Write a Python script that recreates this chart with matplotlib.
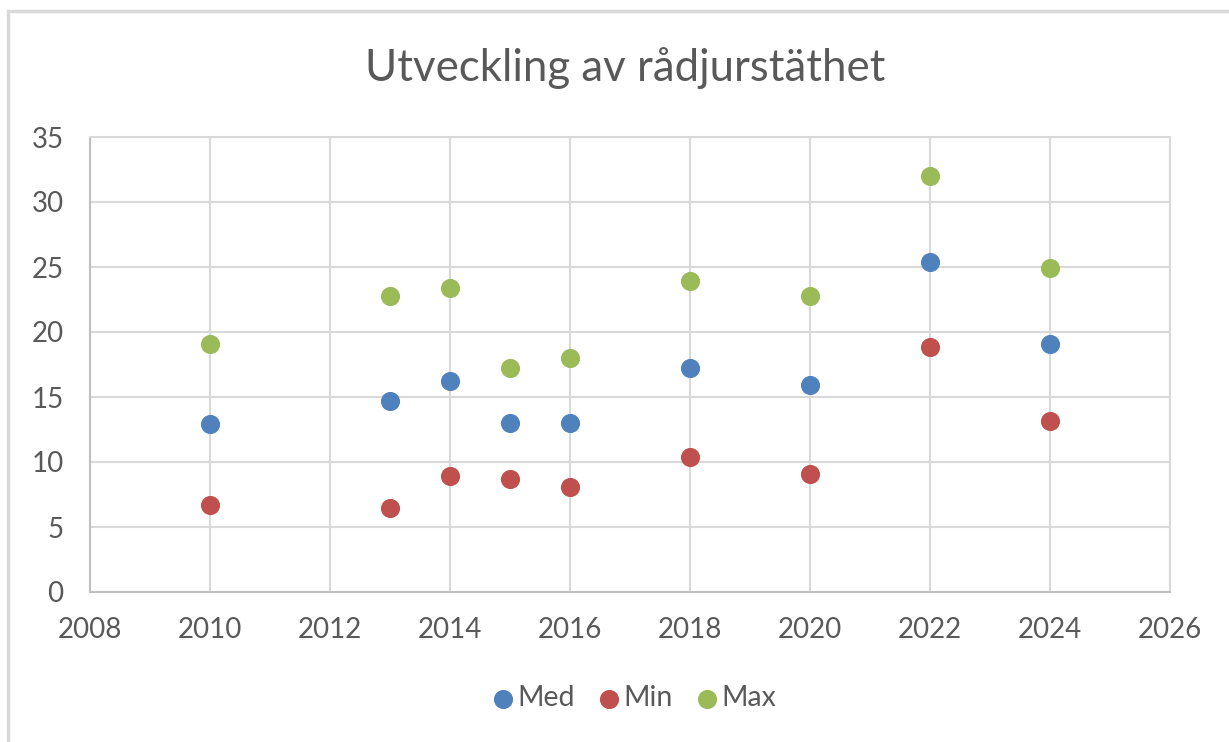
import matplotlib.pyplot as plt
from matplotlib.patches import Rectangle

plt.rcParams['font.family'] = ['Lato', 'DejaVu Sans']

years_med = [2010, 2013, 2014, 2015, 2016, 2018, 2020, 2022, 2024]
med = [12.9, 14.7, 16.2, 13.0, 13.0, 17.2, 15.9, 25.4, 19.1]
mins = [6.7, 6.5, 8.9, 8.7, 8.1, 10.4, 9.1, 18.85, 13.15]
maxs = [19.1, 22.8, 23.4, 17.2, 18.0, 23.9, 22.8, 32.0, 24.9]

series = [('Med', med, '#4F81BD'), ('Min', mins, '#C0504D'), ('Max', maxs, '#9BBB59')]

fig = plt.figure(figsize=(12.29, 7.42), dpi=100)
# yttre ram runt diagrammet
fig.patches.append(Rectangle((8 / 1229, -0.05), 1.2, 1 - 11 / 742 + 0.05, transform=fig.transFigure,
                             fill=False, edgecolor='#D9D9D9', linewidth=2.5))

ax = fig.add_axes([90 / 1229, 1 - 592 / 742, 1080 / 1229, 455 / 742])
for name, vals, col in series:
    ax.scatter(years_med, vals, s=190, color=col, label=name, zorder=3, linewidths=0)

ax.set_xlim(2008, 2026)
ax.set_ylim(0, 35)
ax.set_xticks(range(2008, 2027, 2))
ax.set_yticks(range(0, 36, 5))
ax.grid(True, color='#D9D9D9', linewidth=1.5)
ax.set_axisbelow(True)
for s in ax.spines.values():
    s.set_color('#D9D9D9')
    s.set_linewidth(1.5)
ax.spines['left'].set_color('#BFBFBF')
ax.spines['bottom'].set_color('#BFBFBF')
ax.tick_params(length=0, labelsize=20, labelcolor='#595959')
ax.tick_params(axis='x', pad=18)
ax.tick_params(axis='y', pad=19)

fig.text(625 / 1229, 1 - 68 / 742, 'Utveckling av rådjurstäthet', ha='center', va='center',
         fontsize=31.5, color='#595959')

fig.legend(loc='center', bbox_to_anchor=(631 / 1229, 1 - 698 / 742), ncol=3, frameon=False,
           fontsize=20.5, labelcolor='#595959', handletextpad=-0.1, columnspacing=0.6,
           handlelength=1.2, markerscale=1.0)

fig.savefig('out.png', dpi=100)
